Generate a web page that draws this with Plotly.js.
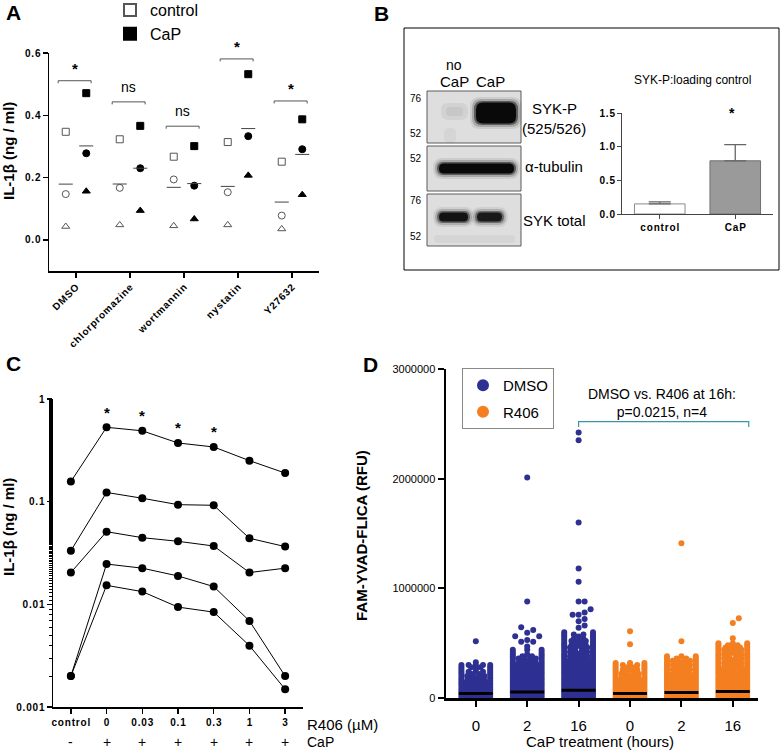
<!DOCTYPE html>
<html><head><meta charset="utf-8">
<script src="https://cdn.plot.ly/plotly-3.0.1.min.js"></script>
<style>html,body{margin:0;padding:0;background:#fff}#chart{width:780px;height:752px}</style>
</head><body><div id="chart"></div>
<script>
// ---------------- Panel A data ----------------
const drugs = ['DMSO','chlorpromazine','wortmannin','nystatin','Y27632'];
const ctrlExp1 = [0.347,0.323,0.267,0.314,0.251];   // open squares
const ctrlExp2 = [0.147,0.167,0.194,0.153,0.078];   // open circles
const ctrlExp3 = [0.043,0.048,0.045,0.048,0.035];   // open triangles
const capExp1  = [0.471,0.366,0.301,0.532,0.387];   // filled squares
const capExp2  = [0.278,0.230,0.174,0.333,0.291];   // filled circles
const capExp3  = [0.156,0.094,0.067,0.207,0.145];   // filled triangles
const aSigLabels = ['*','ns','ns','*','*'];
const aSigY      = [0.511,0.443,0.365,0.581,0.446];
const aTickVals  = [0,0.2,0.4,0.6];
const aTickText  = ['0.0','0.2','0.4','0.6'];

// ---------------- Panel B data ----------------
const bGroups = ['control','CaP'];
const bMeans  = [0.15,0.79];
const bErr    = [0.03,0.24];
const bSig    = ['','*'];
const bTickVals = [0,0.5,1,1.5];
const bTickText = ['0.0','0.5','1.0','1.5'];
const blotRowLabels = [['SYK-P','(525/526)'],['α-tubulin'],['SYK total']];
const blotMW = [['76','52'],['52'],['76','52']];

// ---------------- Panel C data ----------------
const r406Doses = ['control','0','0.03','0.1','0.3','1','3'];
const capSigns  = ['-','+','+','+','+','+','+'];
const cExp1 = [0.157,0.53,0.49,0.373,0.341,0.251,0.19];
const cExp2 = [0.0333,0.123,0.108,0.0935,0.0922,0.044,0.0365];
const cExp3 = [0.0204,0.051,0.0446,0.0411,0.037,0.0204,0.0225];
const cExp4 = [0.002,0.0247,0.0225,0.0189,0.0149,0.0069,0.002];
const cExp5 = [0.002,0.0153,0.0133,0.0094,0.0084,0.00396,0.00149];
const cSig  = ['','*','*','*','*','',''];
const cTickVals = [0.001,0.01,0.1,1];
const cTickText = ['0.001','0.01','0.1','1'];

// ---------------- Panel D data ----------------
const dTreatment = ['DMSO','DMSO','DMSO','R406','R406','R406'];
const dHours     = ['0','2','16','0','2','16'];
const dRowStep   = 20000;   // RFU between swarm rows
// swarm width (points per row), rows from 0 RFU upward
const dmso0Rows  = [7,7,7,7,7,7,7,7,6,5,6,4,5,3,4,5];
const dmso2Rows  = [7,7,7,7,7,7,7,7,7,7,7,7,7,7,7,7,6,5,6,4,3,2,3];
const dmso16Rows = [7,7,7,7,7,7,7,7,7,7,7,7,7,7,7,7,6,7,5,6,5,6,4,6,5,4,5,4,3,4,2];
const r4060Rows  = [7,7,7,7,7,7,7,7,7,6,5,6,4,5,4,5,3];
const r4062Rows  = [7,7,7,7,7,7,7,7,7,7,7,6,5,6,5,6,5,6,4,3];
const r40616Rows = [7,7,7,7,7,7,7,7,7,7,7,7,7,7,6,5,6,5,6,4,6,5,6,5,4,3];
// isolated high cells
const dmso0Extra  = [327000,518000];
const dmso2Extra  = [470000,512000,512000,530000,564000,564000,594000,620000,645000,880000,2010000];
const dmso16Extra = [640000,660000,700000,720000,760000,760000,780000,810000,880000,880000,1060000,1180000,1600000,2350000,2420000];
const r4060Extra  = [491000,609000];
const r4062Extra  = [518000,1410000];
const r40616Extra = [545000,685000,727000];
const dMedians = [40000,55000,70000,40000,50000,60000];
const dTickVals = [0,1000000,2000000,3000000];

// ---------------- helpers ----------------
const W = 780, H = 752;
const X = px => px / W, Y = py => 1 - py / H;
const FONT = 'Liberation Sans, Arial, Helvetica, sans-serif';
const sp = s => s.split('').join('\u200A');
const mean = a => a.reduce((s, v) => s + v, 0) / a.length;
const shapes = [], annotations = [];
function txt(x, y, text, size, extra) {
  const o = Object.assign({xref:'paper', yref:'paper', x:X(x), y:Y(y), text:text, showarrow:false,
    xanchor:'center', yanchor:'middle', font:{family:FONT, size:size, color:'#000'}}, extra || {});
  annotations.push(o);
}
function rr(x0, y0, x1, y1, r, fill, op) {
  const P = (x, y) => X(x).toFixed(5) + ',' + Y(y).toFixed(5);
  const d = `M${P(x0+r,y0)} L${P(x1-r,y0)} Q${P(x1,y0)} ${P(x1,y0+r)} L${P(x1,y1-r)} Q${P(x1,y1)} ${P(x1-r,y1)} ` +
            `L${P(x0+r,y1)} Q${P(x0,y1)} ${P(x0,y1-r)} L${P(x0,y0+r)} Q${P(x0,y0)} ${P(x0+r,y0)} Z`;
  shapes.push({type:'path', xref:'paper', yref:'paper', path:d, fillcolor:fill, opacity:op, line:{width:0}});
}
function blob(x0, y0, x1, y1, dark) {
  rr(x0-5, y0-4, x1+5, y1+4, Math.min(10,(y1-y0)/2+4), '#000', 0.08*dark);
  rr(x0-3, y0-2, x1+3, y1+2, Math.min(9,(y1-y0)/2+2), '#000', 0.18*dark);
  rr(x0-1, y0, x1+1, y1, Math.min(8,(y1-y0)/2), '#000', 0.45*dark);
  rr(x0+1, y0+1.5, x1-1, y1-1.5, Math.min(7,(y1-y0)/2-1.5), '#000', 0.9*dark);
}

const traces = [];

// ================= Panel A =================
const aIdx = drugs.map((_, i) => i);
const offC = -0.19, offK = 0.19;
const aSets = [
  {y:ctrlExp1, off:offC, sym:'square-open',      col:'#555', name:'control', leg:true},
  {y:ctrlExp2, off:offC, sym:'circle-open',      col:'#555'},
  {y:ctrlExp3, off:offC, sym:'triangle-up-open', col:'#555'},
  {y:capExp1,  off:offK, sym:'square',           col:'#000', name:'CaP', leg:true},
  {y:capExp2,  off:offK, sym:'circle',           col:'#000'},
  {y:capExp3,  off:offK, sym:'triangle-up',      col:'#000'}
];
aSets.forEach(s => traces.push({
  type:'scatter', mode:'markers', xaxis:'x', yaxis:'y', legend:'legend2',
  x: aIdx.map(i => i + s.off), y: s.y, name: s.name || '', showlegend: !!s.leg,
  marker:{symbol:s.sym, size:7, color:s.col, line:{width:1, color:s.col}}, cliponaxis:false, hoverinfo:'skip'
}));
// mean lines
(function(){
  const mx = [], my = [];
  aIdx.forEach(i => {
    const mc = mean([ctrlExp1[i], ctrlExp2[i], ctrlExp3[i]]);
    const mk = mean([capExp1[i], capExp2[i], capExp3[i]]);
    mx.push(i+offC-0.13, i+offC+0.13, null, i+offK-0.13, i+offK+0.13, null);
    my.push(mc, mc, null, mk, mk, null);
  });
  traces.push({type:'scatter', mode:'lines', xaxis:'x', yaxis:'y', x:mx, y:my, showlegend:false,
    line:{color:'#444', width:1}, hoverinfo:'skip'});
})();
aIdx.forEach(i => {
  const y = aSigY[i], x0 = i - 0.33, x1 = i + 0.28;
  shapes.push({type:'path', xref:'x', yref:'y', path:`M${x0},${y-0.008} L${x0},${y} L${x1},${y} L${x1},${y-0.008}`,
    line:{color:'#555', width:1}});
  const star = aSigLabels[i] === '*';
  annotations.push({xref:'x', yref:'y', x:i - 0.02, y:y, text:aSigLabels[i], showarrow:false,
    xanchor:'center', yanchor:'middle', yshift: star ? 12 : 15,
    font:{family:FONT, size: star ? 15 : 14, color:'#000', weight: star ? 'bold' : 'normal'}});
});

// ================= Panel B (bars) =================
traces.push({type:'bar', xaxis:'x2', yaxis:'y2', x:[0,1], y:bMeans, width:0.67, showlegend:false,
  marker:{color:['#ffffff','#9a9a9a'], line:{color:['#8a8a8a','#707070'], width:1}},
  error_y:{type:'data', symmetric:false, array:bErr, arrayminus:[0,0], color:'#666', thickness:1.3, width:11},
  hoverinfo:'skip'});
bSig.forEach((s, i) => { if (s) annotations.push({xref:'x2', yref:'y2', x:i, y:1.5, xshift:-3, text:s, showarrow:false,
  xanchor:'center', yanchor:'middle', font:{family:FONT, size:14, color:'#000', weight:'bold'}}); });

// ================= Panel C =================
const cIdx = r406Doses.map((_, i) => i);
[cExp1, cExp2, cExp3, cExp4, cExp5].forEach(s => traces.push({
  type:'scatter', mode:'lines+markers', xaxis:'x3', yaxis:'y3', x:cIdx, y:s, showlegend:false,
  line:{color:'#000', width:1}, marker:{color:'#000', size:8}, cliponaxis:false, hoverinfo:'skip'}));
cSig.forEach((s, i) => { if (s) annotations.push({xref:'x3', yref:'y3', x:i, y:Math.log10(cExp1[i]), yshift:15,
  text:s, showarrow:false, xanchor:'center', yanchor:'middle', font:{family:FONT, size:15, color:'#000', weight:'bold'}}); });
capSigns.forEach((s, i) => annotations.push({xref:'x3', yref:'paper', x:i, y:Y(742), text:s, showarrow:false,
  xanchor:'center', yanchor:'middle', font:{family:FONT, size:14, color:'#000'}}));

// ================= Panel D =================
const DMSO_COL = '#2e3192', R406_COL = '#f47f20';
const dxPx = 51.4, dyPx = 110 / 1e6;
function swarm(g, rows, extras) {
  const xs = [], ys = [], half = 0.28;
  rows.forEach((n, k) => {
    const v = k * dRowStep;
    for (let j = 0; j < n; j++) {
      const o = n === 1 ? 0 : -half + 2 * half * j / (n - 1);
      xs.push(g + o); ys.push(v);
    }
  });
  const placed = [], d = 6 / dxPx;
  extras.slice().sort((a, b) => a - b).forEach(v => {
    for (let t = 0; t < 30; t++) {
      const o = t === 0 ? 0 : (t % 2 ? 1 : -1) * Math.ceil(t / 2) * d;
      if (placed.every(p => Math.hypot((p[0] - o) * dxPx, (p[1] - v) * dyPx) >= 6)) {
        placed.push([o, v]); xs.push(g + o); ys.push(v); break;
      }
    }
  });
  return {xs, ys};
}
const dRows = [dmso0Rows, dmso2Rows, dmso16Rows, r4060Rows, r4062Rows, r40616Rows];
const dExtras = [dmso0Extra, dmso2Extra, dmso16Extra, r4060Extra, r4062Extra, r40616Extra];
dRows.forEach((rows, g) => {
  const s = swarm(g, rows, dExtras[g]);
  const isD = dTreatment[g] === 'DMSO';
  traces.push({type:'scatter', mode:'markers', xaxis:'x4', yaxis:'y4', x:s.xs, y:s.ys,
    name: dTreatment[g], legendgroup: dTreatment[g], showlegend: g === 0 || g === 3,
    marker:{color: isD ? DMSO_COL : R406_COL, size:6, line:{width:0}}, cliponaxis:false, hoverinfo:'skip'});
});
(function(){
  const mx = [], my = [];
  dMedians.forEach((m, g) => { mx.push(g - 0.33, g + 0.33, null); my.push(m, m, null); });
  traces.push({type:'scatter', mode:'lines', xaxis:'x4', yaxis:'y4', x:mx, y:my, showlegend:false,
    line:{color:'#000', width:3}, cliponaxis:false, hoverinfo:'skip'});
})();
shapes.push({type:'path', xref:'x4', yref:'y4', path:'M2,2470000 L2,2520000 L5.31,2520000 L5.31,2470000',
  line:{color:'#3a96a8', width:1.2}});
annotations.push({xref:'paper', yref:'y4', x:X(662), y:2520000, yshift:19, text:'DMSO vs. R406 at 16h:<br>p=0.0215, n=4',
  showarrow:false, xanchor:'center', yanchor:'middle', font:{family:FONT, size:14, color:'#000'}});

// ================= Panel B blot (drawn) =================
shapes.push({type:'rect', xref:'paper', yref:'paper', x0:X(404), x1:X(779), y0:Y(270), y1:Y(28),
  line:{color:'#000', width:1}, fillcolor:'rgba(0,0,0,0)'});
[[91,143],[146,191],[194,246]].forEach(p => shapes.push({type:'rect', xref:'paper', yref:'paper',
  x0:X(427), x1:X(521), y0:Y(p[1]), y1:Y(p[0]), line:{color:'#5a5a5a', width:1}, fillcolor:'#dedede'}));
// SYK-P
rr(441,103,468,120,7,'#000',0.05); rr(446,107,463,116,4,'#000',0.05);
blob(475,101,517,125,1);
rr(444,128,456,143,5,'#000',0.04);
// tubulin
blob(438,162,515,175,1);
// SYK total
blob(438,211,469,223,0.9);
blob(476,211,503,223,0.85);
rr(434,235,515,243,3,'#000',0.04);
txt(454,65,'no',14); txt(454,81,'CaP',15); txt(490,81,'CaP',15);
[[98,133],[158],[201,237]].forEach((ys, r) => ys.forEach((y, k) => txt(416,y,blotMW[r][k],10)));
[[109,128],[167],[220]].forEach((ys, r) => ys.forEach((y, k) => txt(554,y,blotRowLabels[r][k],15)));
txt(692,80,'SYK-P:loading control',12);

// ================= titles / labels =================
const big = {family:FONT, size:21, color:'#000', weight:'bold'};
const ttl = {family:FONT, size:15, color:'#000', weight:'bold'};
txt(13,13,'A',21,{font:big});
txt(381,14,'B',21,{font:big});
txt(13,363,'C',21,{font:big});
txt(370,364,'D',21,{font:big});
txt(8,151,'IL-1β (ng / ml)',15,{textangle:-90,font:ttl});
txt(8,527,'IL-1β (ng / ml)',15,{textangle:-90,font:ttl});
txt(361,536,'FAM-YVAD-FLICA (RFU)',15,{textangle:-90,font:ttl});
txt(600,741,'CaP treatment (hours)',15);
txt(305,724,'R406 (µM)',15,{xanchor:'left'});
txt(305,742,'CaP',14,{xanchor:'left'});

// ================= layout =================
const base = {showgrid:false, zeroline:false, showline:true, linecolor:'#000', ticks:'outside', tickcolor:'#000', fixedrange:true};
const smallBold = {family:FONT, size:10, color:'#000', weight:'bold'};
const layout = {
  width:W, height:H, margin:{l:0, r:0, t:0, b:0, pad:0, autoexpand:false}, paper_bgcolor:'#fff', plot_bgcolor:'rgba(0,0,0,0)',
  font:{family:FONT, color:'#000'}, showlegend:true,
  xaxis: Object.assign({}, base, {domain:[X(49), X(319)], range:[-0.5,4.5], anchor:'y', linewidth:1.5, ticklen:5, tickwidth:1.5,
    tickvals:aIdx, ticktext:drugs.map(sp), tickangle:-45, tickfont:smallBold, automargin:false}),
  yaxis: Object.assign({}, base, {domain:[Y(271), Y(53)], range:[-0.1,0.6], anchor:'x', linewidth:1.5, ticklen:5, tickwidth:1.5,
    tickvals:aTickVals, ticktext:aTickText.map(sp), tickfont:smallBold, automargin:false}),
  xaxis2: Object.assign({}, base, {domain:[X(622), X(773)], range:[-0.5,1.5], anchor:'y2', linewidth:1, ticklen:4,
    tickvals:[0,1], ticktext:bGroups.map(sp), tickfont:smallBold, linecolor:'#444', tickcolor:'#444'}),
  yaxis2: Object.assign({}, base, {domain:[Y(214), Y(113)], range:[0,1.5], anchor:'x2', linewidth:1, ticklen:4,
    tickvals:bTickVals, ticktext:bTickText.map(sp), tickfont:smallBold, linecolor:'#444', tickcolor:'#444'}),
  xaxis3: Object.assign({}, base, {domain:[X(53), X(303)], range:[-0.5,6.5], anchor:'y3', linewidth:1.5, ticklen:5, tickwidth:1.5,
    tickvals:cIdx, ticktext:r406Doses.map(sp), tickfont:smallBold}),
  yaxis3: Object.assign({}, base, {domain:[Y(707), Y(399)], type:'log', range:[-3,0], anchor:'x3', linewidth:1.5, ticklen:5, tickwidth:1.5,
    tickvals:cTickVals, ticktext:cTickText.map(sp), tickfont:smallBold,
    minor:{ticks:'outside', ticklen:3, tickwidth:1, tickcolor:'#000', showgrid:false}}),
  xaxis4: Object.assign({}, base, {domain:[X(446), X(758)], range:[-0.58,5.49], anchor:'y4', linewidth:2.5, ticklen:6, tickwidth:2,
    tickvals:[0,1,2,3,4,5], ticktext:dHours, tickfont:{family:FONT, size:15, color:'#000'}, ticklabelstandoff:6}),
  yaxis4: Object.assign({}, base, {domain:[Y(698), Y(369)], range:[0,3000000], anchor:'x4', linewidth:2.5, ticklen:6, tickwidth:2,
    tickvals:dTickVals, ticktext:dTickVals.map(String), tickfont:{family:FONT, size:11, color:'#000'}}),
  legend:{x:X(462), y:Y(368), xanchor:'left', yanchor:'top', bordercolor:'#888', borderwidth:1, bgcolor:'#fff',
    font:{family:FONT, size:15, color:'#000'}, itemsizing:'constant', tracegroupgap:4},
  legend2:{x:X(110), y:Y(-7), xanchor:'left', yanchor:'top', bgcolor:'rgba(0,0,0,0)',
    font:{family:FONT, size:16, color:'#000'}, itemsizing:'constant', tracegroupgap:0},
  shapes:shapes, annotations:annotations
};
Plotly.newPlot('chart', traces, layout, {staticPlot:true, displayModeBar:false});
</script>
</body></html>
